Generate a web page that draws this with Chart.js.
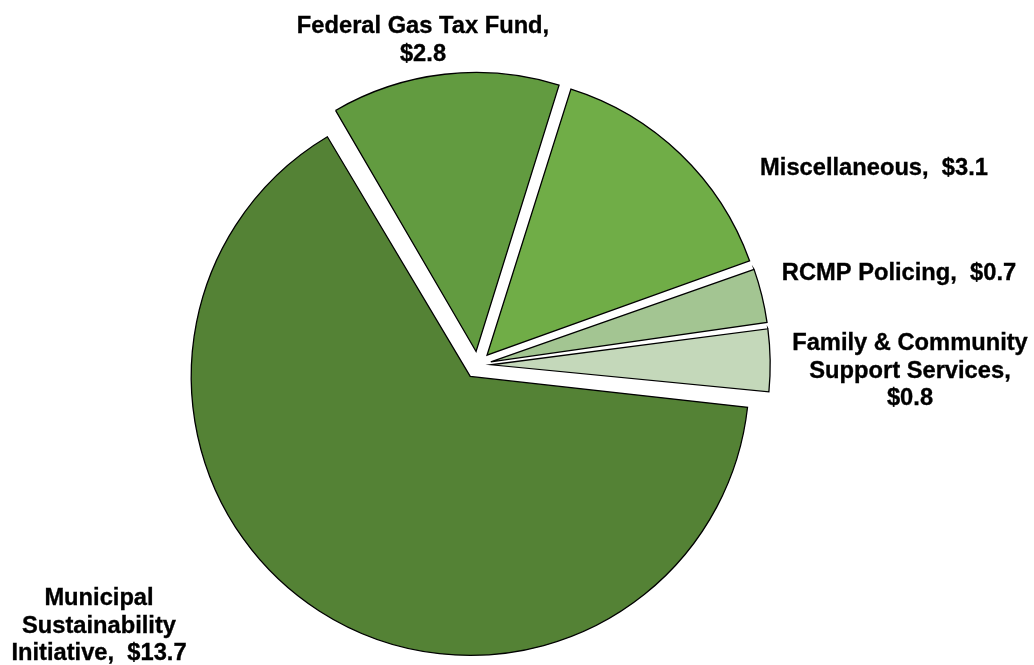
<!DOCTYPE html>
<html>
<head>
<meta charset="utf-8">
<script src="https://cdn.jsdelivr.net/npm/chart.js@4/dist/chart.umd.min.js"></script>
<style>
  html, body { margin: 0; padding: 0; background: #ffffff; }
  #wrap { position: relative; width: 1034px; height: 665px; }
</style>
</head>
<body>
<div id="wrap"><canvas id="pie"></canvas></div>
<script>
// Revenue sources ($ millions)
const categories = [
  'Municipal Sustainability Initiative',
  'Federal Gas Tax Fund',
  'Miscellaneous',
  'RCMP Policing',
  'Family & Community Support Services'
];
const values = [13.7, 2.8, 3.1, 0.7, 0.8];

// How each data label is broken into lines; {v} is the formatted value
const labelLines = [
  ['Municipal', 'Sustainability', 'Initiative,  {v}'],
  ['Federal Gas Tax Fund,', '{v}'],
  ['Miscellaneous,  {v}'],
  ['RCMP Policing,  {v}'],
  ['Family & Community', 'Support Services,', '{v}']
];

// Styling
const sliceColors = ['#548235', '#629b40', '#70ad47', '#a3c592', '#c4d8ba'];
const labelAnchors = [
  { x: 99,  y: 605 },
  { x: 423, y: 33 },
  { x: 874, y: 175 },
  { x: 899, y: 280 },
  { x: 910, y: 350 }
];
const EXPLODE = 13.6;      // px each slice is pulled out from the centre
const RADIUS = 279;
const LABEL_FONT = 'bold 23.7px "Liberation Sans", Arial, sans-serif';
const LINE_HEIGHT = 27.7;

const fmt = v => '$' + v.toFixed(1);

// Keep exploded slices at the same radius as the pie (pull out, don't grow)
const keepRadius = {
  id: 'keepRadius',
  beforeDatasetDraw(chart, args) {
    const meta = args.meta;
    const base = meta.controller.outerRadius;
    meta.data.forEach(arc => {
      const fix = 1 - Math.sin(Math.min(Math.PI, arc.circumference || 0));
      arc.outerRadius = base - EXPLODE * fix;
    });
  }
};

// Category / value labels
const sliceLabels = {
  id: 'sliceLabels',
  afterDraw(chart) {
    const ctx = chart.ctx;
    ctx.save();
    ctx.font = LABEL_FONT;
    ctx.fillStyle = '#000000';
    ctx.strokeStyle = '#000000';
    ctx.lineWidth = 0.35;
    ctx.textAlign = 'center';
    ctx.textBaseline = 'alphabetic';
    categories.forEach((name, i) => {
      const lines = labelLines[i].map(l => l.replace('{v}', fmt(values[i])));
      const a = labelAnchors[i];
      lines.forEach((line, j) => {
        ctx.fillText(line, a.x, a.y + j * LINE_HEIGHT);
        ctx.strokeText(line, a.x, a.y + j * LINE_HEIGHT);
      });
    });
    ctx.restore();
  }
};

new Chart(document.getElementById('pie'), {
  type: 'pie',
  data: {
    labels: categories,
    datasets: [{
      data: values,
      backgroundColor: sliceColors,
      borderColor: '#000000',
      borderWidth: 1.3,
      borderJoinStyle: 'miter',
      offset: EXPLODE * 4,
      hoverOffset: EXPLODE * 4
    }]
  },
  options: {
    responsive: true,
    maintainAspectRatio: false,
    animation: false,
    events: [],
    rotation: 95.9,
    radius: RADIUS,
    layout: { padding: { left: 0, right: 78.8, top: 65, bottom: 0 } },
    plugins: {
      legend: { display: false },
      tooltip: { enabled: false },
      title: { display: false }
    }
  },
  plugins: [keepRadius, sliceLabels]
});
</script>
</body>
</html>
